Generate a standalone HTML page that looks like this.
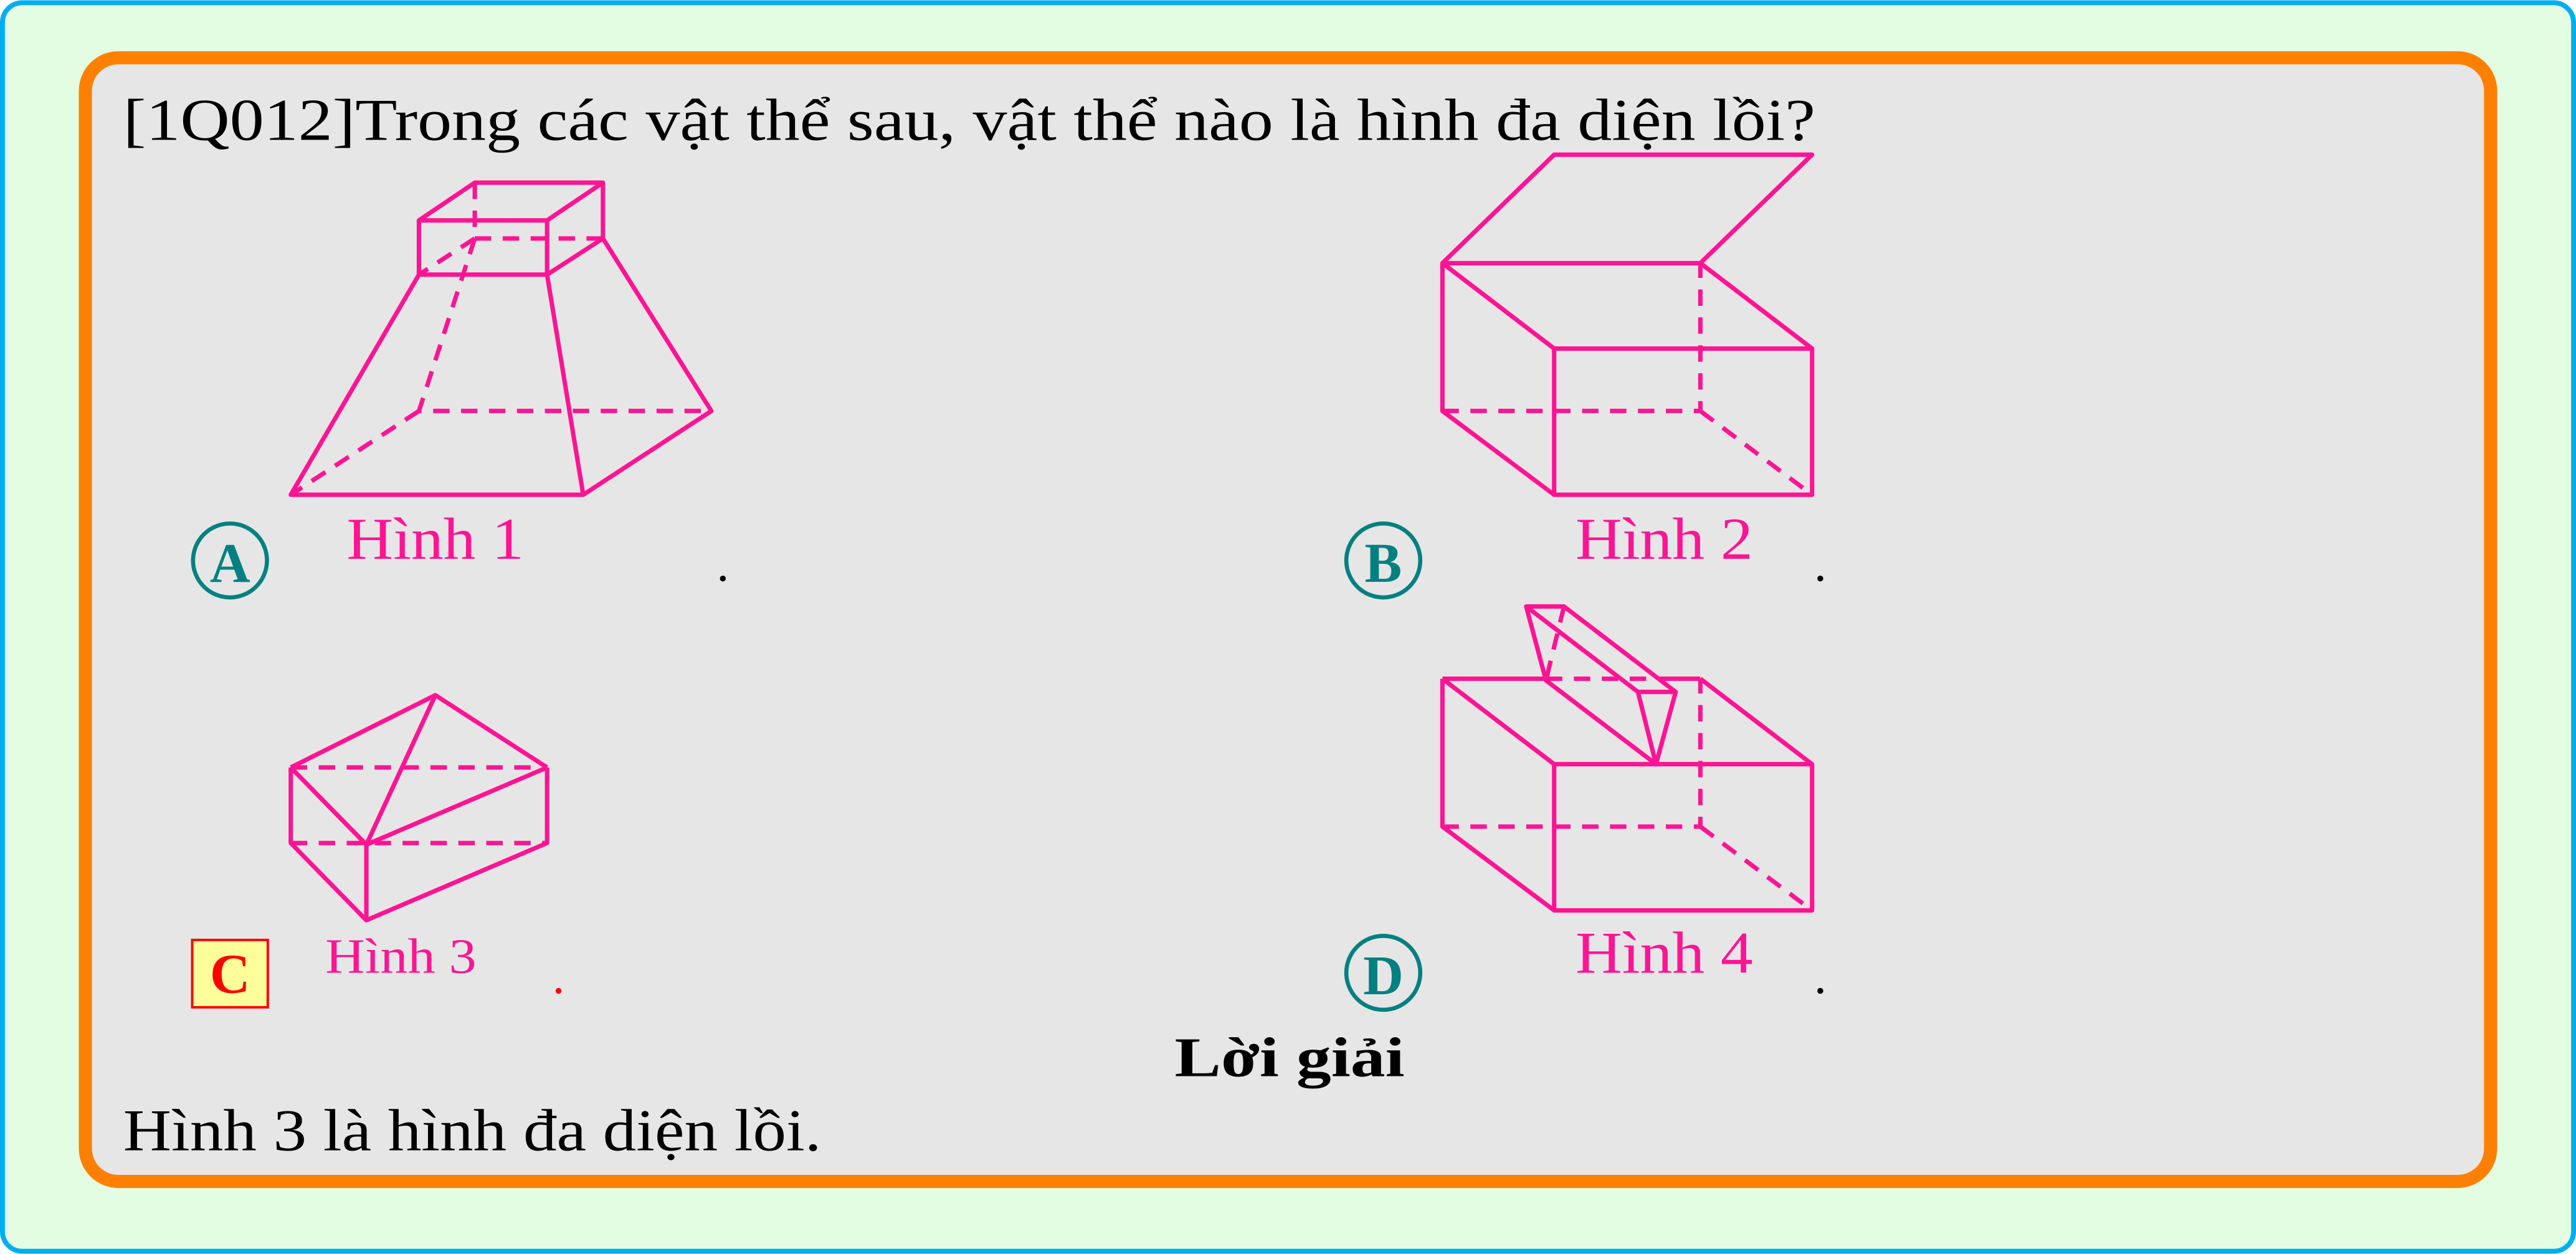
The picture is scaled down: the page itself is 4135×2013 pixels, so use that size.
<!DOCTYPE html>
<html><head><meta charset="utf-8"><style>
html,body{margin:0;padding:0;background:#fff}
svg{display:block}
text{font-family:"Liberation Serif",serif}
</style></head><body>
<svg width="4135" height="2013" viewBox="0 0 1568 763" xmlns="http://www.w3.org/2000/svg">
<rect x="1.5" y="1.5" width="1565" height="760" rx="12" fill="#E2FDE2" stroke="#00AEEF" stroke-width="3"/>
<rect x="52" y="35" width="1464" height="684" rx="20" fill="#E6E6E6" stroke="#FF8000" stroke-width="8"/>
<text x="75" y="85" font-size="36" textLength="1030" lengthAdjust="spacingAndGlyphs" fill="#000">[1Q012]Trong các vật thể sau, vật thể nào là hình đa diện lồi?</text>

<g fill="none" stroke="#FF1493" stroke-width="2.7" stroke-linejoin="round">
<path d="M255,134 H333 V167 H255 Z M255,134 L289,111 H367 L333,134 M367,111 V145 L333,167 M255,167 L177,301 H355 L333,167 M367,145 L433,250 L355,301"/>
<path stroke-dasharray="10,7" d="M289,111 V145 H367 M289,145 L255,167 M289,145 L255,250 H433 M255,250 L177,301"/>
</g>
<text x="211" y="340" font-size="36" textLength="108" lengthAdjust="spacingAndGlyphs" fill="#FF1493">Hình 1</text>
<g>
<circle cx="140" cy="341" r="22.5" fill="none" stroke="#008080" stroke-width="2.5"/>
<text x="140" y="354" font-size="34" font-weight="bold" text-anchor="middle" fill="#008080">A</text>
</g>
<circle cx="440" cy="352" r="1.8" fill="#000"/>

<g fill="none" stroke="#FF1493" stroke-width="2.7" stroke-linejoin="round">
<path d="M878,160 L946,94 H1103 L1035,160 H878 Z M878,160 L946,212 H1103 L1035,160 M946,212 V301 H1103 V212 M878,160 V250 L946,301"/>
<path stroke-dasharray="10,7" d="M878,250 H1035 V160 M1035,250 L1103,301"/>
</g>
<text x="959" y="340" font-size="36" textLength="108" lengthAdjust="spacingAndGlyphs" fill="#FF1493">Hình 2</text>
<g>
<circle cx="842" cy="341" r="22.5" fill="none" stroke="#008080" stroke-width="2.5"/>
<text x="842" y="354" font-size="34" font-weight="bold" text-anchor="middle" fill="#008080">B</text>
</g>
<circle cx="1108" cy="352" r="1.8" fill="#000"/>

<g fill="none" stroke="#FF1493" stroke-width="2.7" stroke-linejoin="round">
<path d="M177,467 L265,423 L333,467 M177,467 L223,514 L265,423 M223,514 L333,467 M177,467 V513 L223,560 V514 M223,560 L333,513 V467"/>
<path stroke-dasharray="10,7" d="M177,467 H333 M177,513 H333"/>
</g>
<text x="198" y="592" font-size="30" textLength="92" lengthAdjust="spacingAndGlyphs" fill="#FF1493">Hình 3</text>
<g>
<rect x="117" y="572" width="46" height="41" fill="#FFFF99" stroke="#FF0000" stroke-width="1.5"/>
<text x="140" y="604" font-size="34" font-weight="bold" text-anchor="middle" fill="#FF0000">C</text>
</g>
<circle cx="340" cy="603" r="1.8" fill="#FF0000"/>

<g fill="none" stroke="#FF1493" stroke-width="2.7" stroke-linejoin="round">
<path d="M878,413 H941 M1009,413 H1035 M878,413 L946,465 H1103 L1035,413 M946,465 V554 H1103 V465 M878,413 V503 L946,554"/>
<path d="M929,369 H952 L1020,421 H997 L929,369 Z M929,369 L941,414 L1008,465 M997,421 L1008,465 L1020,421"/>
<path stroke-dasharray="10,7" d="M941,413 H1009 M878,503 H1035 V413 M1035,503 L1103,554 M952,369 L941,414"/>
</g>
<text x="959" y="592" font-size="36" textLength="108" lengthAdjust="spacingAndGlyphs" fill="#FF1493">Hình 4</text>
<g>
<circle cx="842" cy="592" r="22.5" fill="none" stroke="#008080" stroke-width="2.5"/>
<text x="842" y="605" font-size="34" font-weight="bold" text-anchor="middle" fill="#008080">D</text>
</g>
<circle cx="1108" cy="603" r="1.8" fill="#000"/>

<text x="785" y="655" font-size="34" font-weight="bold" text-anchor="middle" textLength="140" lengthAdjust="spacingAndGlyphs" fill="#000">Lời giải</text>
<text x="75" y="700" font-size="36" textLength="425" lengthAdjust="spacingAndGlyphs" fill="#000">Hình 3 là hình đa diện lồi.</text>
</svg>
</body></html>
